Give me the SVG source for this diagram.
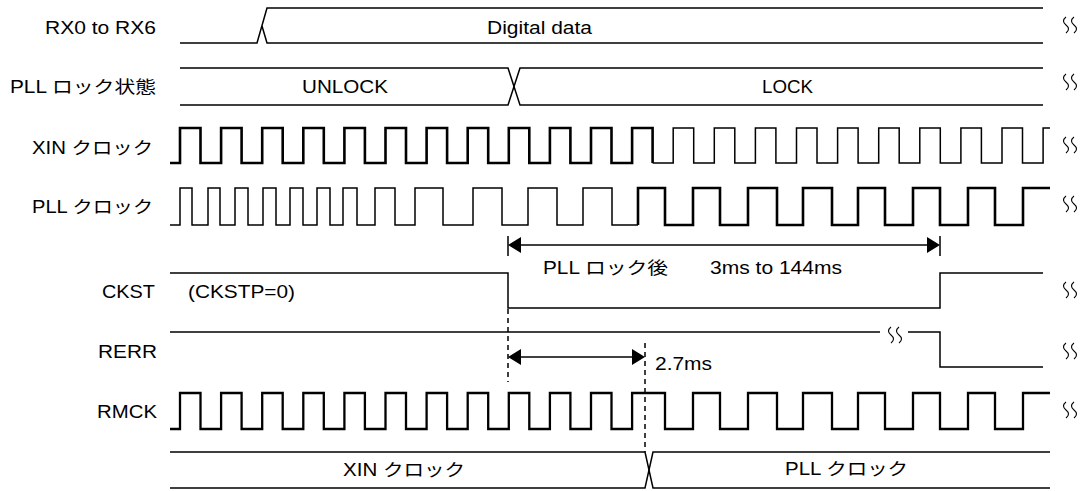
<svg xmlns="http://www.w3.org/2000/svg" width="1083" height="491" viewBox="0 0 1083 491">
<defs>
<style>
.t{font-family:"Liberation Sans","Noto Sans CJK JP",sans-serif;font-size:17.5px;fill:#000}
.w{fill:none;stroke:#000;stroke-width:1.5;stroke-linejoin:miter}
.k{fill:none;stroke:#000;stroke-width:2.6}
.m{fill:none;stroke:#000;stroke-width:2.3}
.d{fill:none;stroke:#000;stroke-width:1.5;stroke-dasharray:5 4}
.s{fill:none;stroke:#000;stroke-width:1.1}
.h{fill:#000;stroke:none}
</style>
<g id="brk">
<path class="s" d="M0,-8 Q-5,-4 0,0 Q5,4 0,8"/>
<path class="s" d="M8,-8 Q3,-4 8,0 Q13,4 8,8"/>
</g>
</defs>
<rect width="1083" height="491" fill="#fff"/>

<g id="rx">
<text class="t" x="45" y="34" textLength="111" lengthAdjust="spacingAndGlyphs">RX0 to RX6</text>
<path class="w" d="M180,43 H257 L267,8 H1043"/>
<path class="w" d="M262,26 L267,43 H1043"/>
<text class="t" x="487" y="34" textLength="105" lengthAdjust="spacingAndGlyphs">Digital data</text>
<use href="#brk" x="1066" y="25"/>
</g>

<g id="plllock">
<text class="t" x="10" y="93" textLength="146" lengthAdjust="spacingAndGlyphs">PLL ロック状態</text>
<path class="w" d="M180,68 H508 L520,105 H1043"/>
<path class="w" d="M180,105 H508 L520,68 H1043"/>
<text class="t" x="302" y="93" textLength="86" lengthAdjust="spacingAndGlyphs">UNLOCK</text>
<text class="t" x="762" y="93" textLength="51" lengthAdjust="spacingAndGlyphs">LOCK</text>
<use href="#brk" x="1066" y="82"/>
</g>

<g id="xin">
<text class="t" x="32" y="154" textLength="121" lengthAdjust="spacingAndGlyphs">XIN クロック</text>
<path class="k" d="M170,163 H180 V128 H200.5 V163 H221.1 V128 H241.6 V163 H262.2 V128 H282.7 V163 H303.3 V128 H323.8 V163 H344.4 V128 H364.9 V163 H385.5 V128 H406 V163 H426.6 V128 H447.1 V163 H467.7 V128 H488.2 V163 H508.8 V128 H529.3 V163 H549.9 V128 H570.4 V163 H591 V128 H611.5 V163 H632.1 V128 H652.6 V163"/>
<path class="w" d="M652.6,163 H673.2 V128 H693.7 V163 H714.3 V128 H734.8 V163 H755.4 V128 H775.9 V163 H796.5 V128 H817 V163 H837.6 V128 H858.1 V163 H878.7 V128 H899.2 V163 H919.8 V128 H940.3 V163 H960.9 V128 H981.4 V163 H1002 V128 H1022.5 V163 H1043.1 V128 H1050"/>
<use href="#brk" x="1066" y="145"/>
</g>

<g id="pllclk">
<text class="t" x="32" y="213" textLength="121" lengthAdjust="spacingAndGlyphs">PLL クロック</text>
<path class="w" d="M170,225 H180 V188 H192 V225 H208 V188 H220 V225 H235 V188 H248 V225 H263 V188 H276 V225 H290 V188 H303 V225 H317 V188 H330 V225 H343 V188 H357 V225 H375 V188 H395 V225 H415 V188 H443 V225 H473 V188 H502 V225 H528 V188 H557 V225 H583 V188 H612 V225 H638"/>
<path class="k" d="M638,225 V188 H665 V225 H693 V188 H720 V225 H748 V188 H777 V225 H803 V188 H832 V225 H858 V188 H885 V225 H913 V188 H940 V225 H968 V188 H995 V225 H1023 V188 H1050"/>
<use href="#brk" x="1066" y="204"/>
</g>

<g id="ckst">
<text class="t" x="102" y="298" textLength="53" lengthAdjust="spacingAndGlyphs">CKST</text>
<text class="t" x="188" y="298" textLength="107" lengthAdjust="spacingAndGlyphs">(CKSTP=0)</text>
<path class="w" d="M170,273 H508 V308 H940 V273 H1043"/>
<use href="#brk" x="1066" y="290"/>
</g>

<g id="rerr">
<text class="t" x="98" y="358" textLength="59" lengthAdjust="spacingAndGlyphs">RERR</text>
<path class="w" d="M170,332 H880"/>
<path class="w" d="M908,332 H940 V367 H1043"/>
<use href="#brk" x="891" y="335"/>
<use href="#brk" x="1066" y="351"/>
</g>

<g id="rmck">
<text class="t" x="97" y="418" textLength="60" lengthAdjust="spacingAndGlyphs">RMCK</text>
<path class="m" d="M170,429 H180 V393 H200.5 V429 H221.1 V393 H241.6 V429 H262.2 V393 H282.7 V429 H303.3 V393 H323.8 V429 H344.4 V393 H364.9 V429 H385.5 V393 H406 V429 H426.6 V393 H447.1 V429 H467.7 V393 H488.2 V429 H508.8 V393 H529.3 V429 H549.9 V393 H570.4 V429 H591 V393 H611.5 V429 H632.1 V393 H665 V429 H693 V393 H720 V429 H748 V393 H777 V429 H803 V393 H832 V429 H858 V393 H885 V429 H913 V393 H940 V429 H968 V393 H995 V429 H1023 V393 H1050"/>
<use href="#brk" x="1066" y="410"/>
</g>

<g id="clksel">
<path class="w" d="M170,452 H645 L653,488 H1050"/>
<path class="w" d="M170,488 H645 L653,452 H1050"/>
<text class="t" x="343" y="476" textLength="122" lengthAdjust="spacingAndGlyphs">XIN クロック</text>
<text class="t" x="785" y="475" textLength="123" lengthAdjust="spacingAndGlyphs">PLL クロック</text>
</g>

<g id="connectors">
<path class="w" d="M519,245 H929"/>
<polygon class="h" points="508,245 521,237 521,253"/>
<polygon class="h" points="940,245 927,237 927,253"/>
<path class="w" d="M508,236 V256 M940,236 V256"/>
<text class="t" x="543" y="274" textLength="125" lengthAdjust="spacingAndGlyphs">PLL ロック後</text>
<text class="t" x="710" y="274" textLength="132" lengthAdjust="spacingAndGlyphs">3ms to 144ms</text>
<path class="d" d="M508,309 V382"/>
<path class="d" d="M645,343 V452"/>
<path class="w" d="M519,357 H634"/>
<polygon class="h" points="508,357 521,349 521,365"/>
<polygon class="h" points="645,357 632,349 632,365"/>
<text class="t" x="655" y="370" textLength="57" lengthAdjust="spacingAndGlyphs">2.7ms</text>
</g>
</svg>
